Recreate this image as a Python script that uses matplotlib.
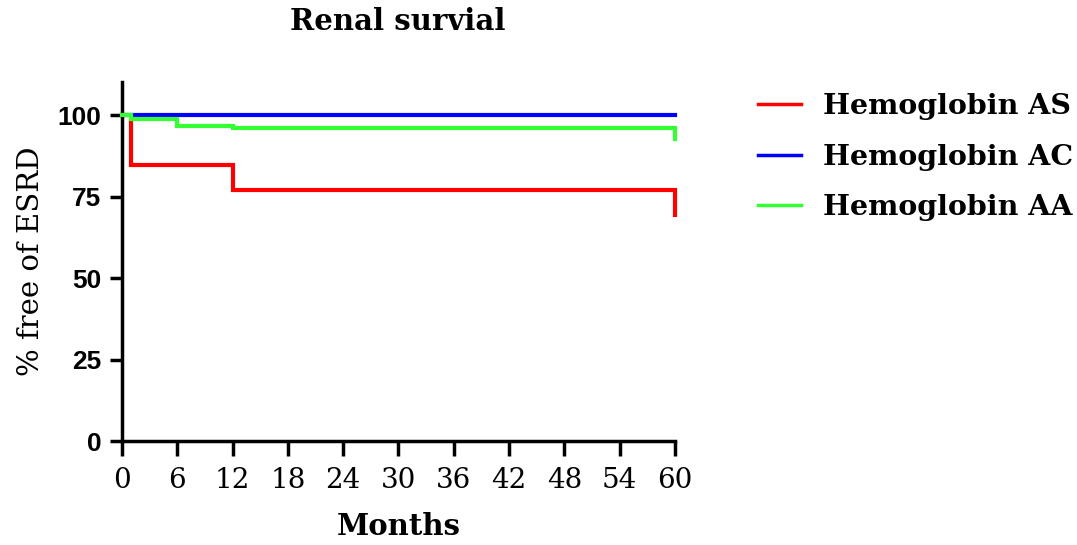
import matplotlib
matplotlib.use("Agg")
import matplotlib.pyplot as plt

# Kaplan-Meier step data (months, % free of ESRD)
months_as = [0, 1, 12, 60, 60]
surv_as = [100, 84.6, 77.0, 77.0, 69.4]

months_ac = [0, 60]
surv_ac = [100, 100]

months_aa = [0, 1, 6, 12, 60, 60]
surv_aa = [100, 98.9, 96.7, 96.0, 96.0, 92.5]

labels = ["Hemoglobin AS", "Hemoglobin AC", "Hemoglobin AA"]
colors = ["#ff0000", "#0000ff", "#33ff33"]

xticks = list(range(0, 61, 6))
yticks = [0, 25, 50, 75, 100]

serif = "DejaVu Serif"
sans = "Liberation Sans"

fig = plt.figure(figsize=(10.77, 5.45), dpi=100)
ax = fig.add_axes([0.1133, 0.1908, 0.5134, 0.658])

for x, y, lab, c in [(months_as, surv_as, labels[0], colors[0]),
                     (months_ac, surv_ac, labels[1], colors[1]),
                     (months_aa, surv_aa, labels[2], colors[2])]:
    ax.step(x, y, where="post", color=c, lw=3, label=lab,
            solid_joinstyle="miter", clip_on=False)

ax.set_xlim(0, 60)
ax.set_ylim(0, 110)
ax.set_xticks(xticks)
ax.set_yticks(yticks)
ax.set_xticklabels([str(t) for t in xticks], fontfamily=serif, fontsize=20)
ax.set_yticklabels([str(t) for t in yticks], fontfamily=sans, fontsize=19, fontweight="bold")

for s in ["top", "right"]:
    ax.spines[s].set_visible(False)
for s in ["left", "bottom"]:
    ax.spines[s].set_linewidth(2.5)
ax.spines["left"].set_zorder(0)
ax.tick_params(axis="x", width=2.5, length=11, pad=8)
ax.tick_params(axis="y", width=2.5, length=9, pad=6)

ax.set_xlabel("Months", fontfamily=serif, fontsize=21, fontweight="bold", va="top")
ax.xaxis.set_label_coords(0.5, -0.198)
ax.set_ylabel("% free of ESRD", fontfamily=serif, fontsize=21)
ax.yaxis.set_label_coords(-0.14, 0.5)
fig.text(0.3696, 1 - 22 / 545, "Renal survial", fontfamily=serif, fontsize=21,
         fontweight="bold", ha="center", va="center")

leg = fig.legend(loc="upper left", bbox_to_anchor=(0.704, 0.829), frameon=False,
                 prop={"family": serif, "size": 20.5, "weight": "bold"},
                 borderpad=0, borderaxespad=0,
                 handlelength=1.5, handletextpad=0.78, labelspacing=0.82)
for h in leg.get_lines():
    h.set_linewidth(2.5)

fig.savefig("out.png", dpi=100)
